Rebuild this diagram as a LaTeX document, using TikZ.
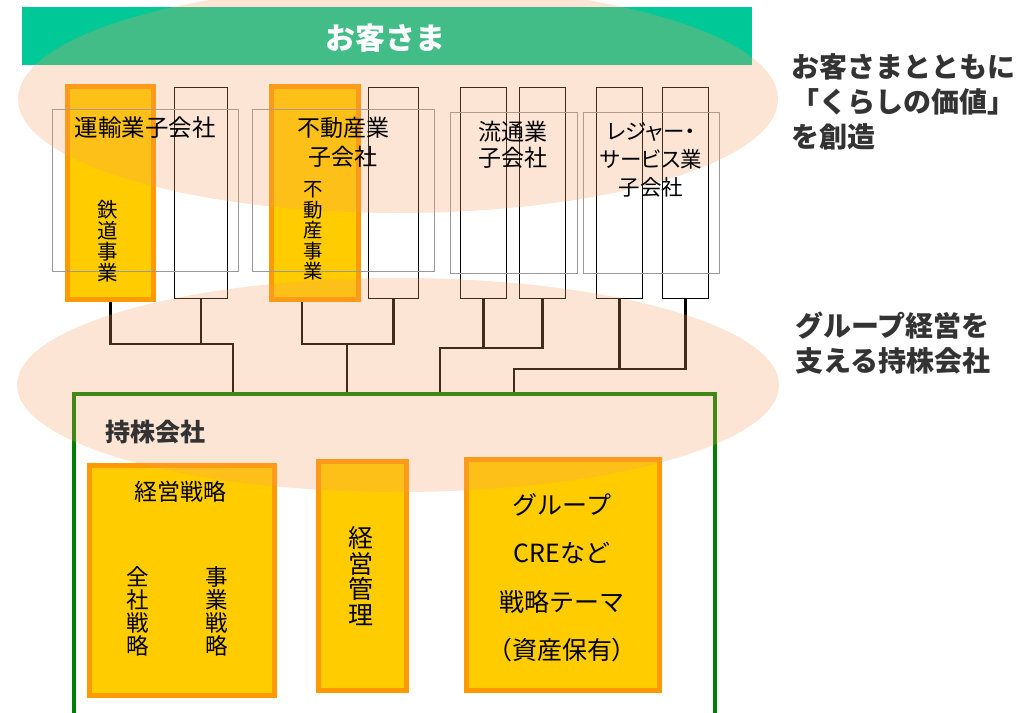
\documentclass[tikz,border=0pt]{standalone}
\usepackage{fontspec}
\setmainfont{Noto Sans CJK JP}
\newfontfamily\jpp[RawFeature=+palt]{Noto Sans CJK JP}
\definecolor{barg}{HTML}{00C896}
\definecolor{boxo}{HTML}{FF9900}
\definecolor{boxy}{HTML}{FFCC00}
\definecolor{tintc}{HTML}{F5A060}
\definecolor{dgrey}{HTML}{333333}
\definecolor{hgreen}{HTML}{008000}
\begin{document}
\begin{tikzpicture}[x=1pt,y=-1pt,
  obox/.style={draw=boxo,line width=5pt,fill=boxy,inner sep=0pt},
  wbox/.style={draw=black,line width=1.5pt,inner sep=0pt},
  gbox/.style={draw=black!40,line width=1.5pt,inner sep=0pt},
  conn/.style={draw=black,line width=2.2pt},
  tint/.style={fill=tintc,fill opacity=0.27,draw=none},
  txt/.style={inner sep=0pt,align=center,text=black},
  head/.style={inner sep=0pt,align=left,text=dgrey,font=\bfseries\fontsize{28}{35}\selectfont}]
\useasboundingbox (0,0) rectangle (1035,712);
% customer bar
\node[fill=barg,inner sep=0pt,minimum width=730pt,minimum height=58pt] (bar) at (387,36) {};
% subsidiary columns
\node[obox,minimum width=86pt,minimum height=213pt] (b1) at (110.5,193) {};
\node[wbox,minimum width=53pt,minimum height=211pt] (b2) at (201,193) {};
\node[obox,minimum width=87pt,minimum height=213pt] (b3) at (315,193) {};
\node[wbox,minimum width=50pt,minimum height=211pt] (b4) at (393.5,193) {};
\node[wbox,minimum width=46pt,minimum height=211pt] (b5) at (483.5,193) {};
\node[wbox,minimum width=46pt,minimum height=211pt] (b6) at (542.5,193) {};
\node[wbox,minimum width=46pt,minimum height=211pt] (b7) at (619.5,193) {};
\node[wbox,minimum width=46pt,minimum height=211pt] (b8) at (685.5,193) {};
\node[gbox,minimum width=186pt,minimum height=162pt] (g1) at (145.5,190.5) {};
\node[gbox,minimum width=182pt,minimum height=162pt] (g2) at (343.5,190.5) {};
\node[gbox,minimum width=127pt,minimum height=161pt] (g3) at (514,193) {};
\node[gbox,minimum width=136pt,minimum height=161pt] (g4) at (651.5,193) {};
% holding company frame
\node[draw=hgreen,line width=4pt,inner sep=0pt,minimum width=641pt,minimum height=340pt] (hold) at (394.5,564) {};
\node[obox,minimum width=185pt,minimum height=230pt] (s1) at (182,580.5) {};
\node[obox,minimum width=88pt,minimum height=229pt] (s2) at (362.5,576) {};
\node[obox,minimum width=193pt,minimum height=231pt] (s3) at (563,575) {};
% connectors
\coordinate (k1) at (233,344);
\coordinate (k2) at (347,344);
\coordinate (k3) at (440,348);
\coordinate (k4) at (514,369);
\coordinate (p3) at (302,302);
\draw[conn] (b1.south) |- (k1) -- (k1 |- hold.north);
\draw[conn] (b2.south) -- (b2.south |- k1);
\draw[conn] (p3) |- (b4.south |- k2) -- (b4.south);
\draw[conn] (k2) -- (k2 |- hold.north);
\draw[conn] (b6.south) |- (k3) -- (k3 |- hold.north);
\draw[conn] (b5.south) -- (b5.south |- k3);
\draw[conn] (b8.south) |- (k4) -- (k4 |- hold.north);
\draw[conn] (b7.south) -- (b7.south |- k4);
% tinted halos
\fill[tint] (398,99) ellipse [x radius=380, y radius=114];
\fill[tint] (398,385) ellipse [x radius=381, y radius=107];
% texts
\node[inner sep=0pt,text=white,font=\bfseries\fontsize{30}{30}\selectfont] (tcust) at (385,38) {お客さま};
\node[txt,font=\fontsize{23.5}{23.5}\selectfont] (t1) at (145,128) {運輸業子会社};
\node[txt,font=\fontsize{20.5}{21}\selectfont] (t1v) at (108,241) {鉄\\道\\事\\業};
\node[txt,font=\fontsize{23}{29}\selectfont] (t2) at (343,142) {不動産業\\子会社};
\node[txt,font=\fontsize{19.5}{20.5}\selectfont] (t2v) at (313,231) {不\\動\\産\\事\\業};
\node[txt,font=\fontsize{23}{26}\selectfont] (t3) at (513,145) {流通業\\子会社};
\node[txt,font=\jpp\fontsize{21.5}{28}\selectfont] (t4) at (651,160) {レジャー・\\サービス業\\子会社};
\node[head,anchor=west] (r1) at (791,102) {お客さまとともに\\「くらしの価値」\\を創造};
\node[head,anchor=west] (r2) at (795,343) {グループ経営を\\支える持株会社};
\node[inner sep=0pt,text=dgrey,font=\bfseries\fontsize{25}{25}\selectfont,anchor=west] (th) at (105,432) {持株会社};
\node[txt,font=\fontsize{23}{23}\selectfont] (ts1) at (180,492) {経営戦略};
\node[txt,font=\fontsize{22.5}{23}\selectfont] (ts1a) at (138,611) {全\\社\\戦\\略};
\node[txt,font=\fontsize{22.5}{23}\selectfont] (ts1b) at (217,611) {事\\業\\戦\\略};
\node[txt,font=\fontsize{25}{25.5}\selectfont] (ts2) at (361,576) {経\\営\\管\\理};
\node[txt,font=\fontsize{25}{48.5}\selectfont] (ts3) at (562,577.5) {グループ\\CREなど\\戦略テーマ\\{\jpp（資産保有）}};
\end{tikzpicture}
\end{document}
